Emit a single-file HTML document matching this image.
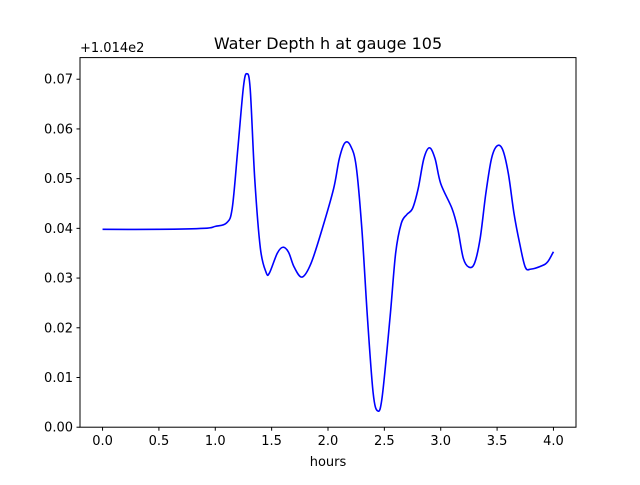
<!DOCTYPE html>
<html><head><meta charset="utf-8"><style>
body{margin:0;background:#fff;}
svg text{font-family:"DejaVu Sans","Liberation Sans",sans-serif;}
</style></head><body>
<svg id="chart" width="640" height="480" xmlns="http://www.w3.org/2000/svg">
<rect width="640" height="480" fill="#fff"/>
<text x="328" y="49" font-size="16" text-anchor="middle">Water Depth h at gauge 105</text>
<text x="80" y="52" font-size="13">+1.014e2</text>
<text x="328" y="466" font-size="13" text-anchor="middle">hours</text>
<g id="ticks"></g>
<path id="line" fill="none" stroke="#0000ff" stroke-width="1.6"/>
<rect x="80" y="57.6" width="496" height="369.6" fill="none" stroke="#000" stroke-width="1"/>
</svg>
<script>
const xTicks=[0,0.5,1.0,1.5,2.0,2.5,3.0,3.5,4.0];
const xTickLabels=["0.0","0.5","1.0","1.5","2.0","2.5","3.0","3.5","4.0"];
const yTicks=[0,0.01,0.02,0.03,0.04,0.05,0.06,0.07];
const yTickLabels=["0.00","0.01","0.02","0.03","0.04","0.05","0.06","0.07"];
const hours=[0,0.5,0.9,1.0,1.1,1.15,1.2,1.25,1.28,1.31,1.35,1.4,1.45,1.48,1.55,1.6,1.65,1.7,1.77,1.85,1.95,2.05,2.1,2.15,2.2,2.25,2.3,2.35,2.4,2.44,2.48,2.55,2.6,2.65,2.7,2.75,2.8,2.85,2.9,2.95,3.0,3.1,3.15,3.2,3.25,3.3,3.35,3.4,3.45,3.5,3.55,3.6,3.65,3.7,3.75,3.8,3.9,3.95,4.0];
const depth=[0.0398,0.0398,0.0400,0.0404,0.0411,0.0440,0.0560,0.0685,0.0711,0.0680,0.0500,0.0360,0.0312,0.0310,0.0350,0.0362,0.0352,0.0322,0.0302,0.0330,0.0400,0.0480,0.0540,0.0572,0.0566,0.0525,0.0400,0.0220,0.0070,0.0033,0.0060,0.0220,0.0350,0.0410,0.0428,0.0440,0.0480,0.0540,0.0562,0.0540,0.0490,0.0440,0.0400,0.0340,0.0322,0.0330,0.0380,0.0470,0.0540,0.0566,0.0558,0.0510,0.0430,0.0370,0.0322,0.0318,0.0325,0.0333,0.0353];
const X0=80,X1=576,Y0=427.2,Y1=57.6,xmin=-0.2,xmax=4.2,ymin=0,ymax=0.07435;
const sx=v=>X0+(v-xmin)/(xmax-xmin)*(X1-X0);
const sy=v=>Y0-(v-ymin)/(ymax-ymin)*(Y0-Y1);
const NS="http://www.w3.org/2000/svg";
const g=document.getElementById('ticks');
function mk(t,a){const e=document.createElementNS(NS,t);for(const k in a)e.setAttribute(k,a[k]);return e;}
xTicks.forEach((v,i)=>{
 const l=mk('line',{x1:sx(v),x2:sx(v),y1:Y0,y2:Y0+3.5,stroke:'#000'});
 
 
 g.appendChild(l);
 const t=mk('text',{x:sx(v),y:Y0+18,'font-size':13,'text-anchor':'middle'});
 t.textContent=xTickLabels[i];
 
 
 g.appendChild(t);
});
yTicks.forEach((v,i)=>{
 const l=mk('line',{x1:X0-3.5,x2:X0,y1:sy(v),y2:sy(v),stroke:'#000'});
 
 
 g.appendChild(l);
 const t=mk('text',{x:X0-7,y:sy(v)+4.5,'font-size':13,'text-anchor':'end'});
 t.textContent=yTickLabels[i];
 
 
 g.appendChild(t);
});
const P=hours.map((h,i)=>[sx(h),sy(depth[i])]);
let d=`M${P[0][0]},${P[0][1]}`;
for(let i=0;i<P.length-1;i++){
 const p0=P[Math.max(0,i-1)],p1=P[i],p2=P[i+1],p3=P[Math.min(P.length-1,i+2)];
 const c1=[p1[0]+(p2[0]-p0[0])/6,p1[1]+(p2[1]-p0[1])/6];
 const c2=[p2[0]-(p3[0]-p1[0])/6,p2[1]-(p3[1]-p1[1])/6];
 d+=` C${c1[0]},${c1[1]} ${c2[0]},${c2[1]} ${p2[0]},${p2[1]}`;
}
document.getElementById('line').setAttribute('d',d);
</script>
</body></html>
